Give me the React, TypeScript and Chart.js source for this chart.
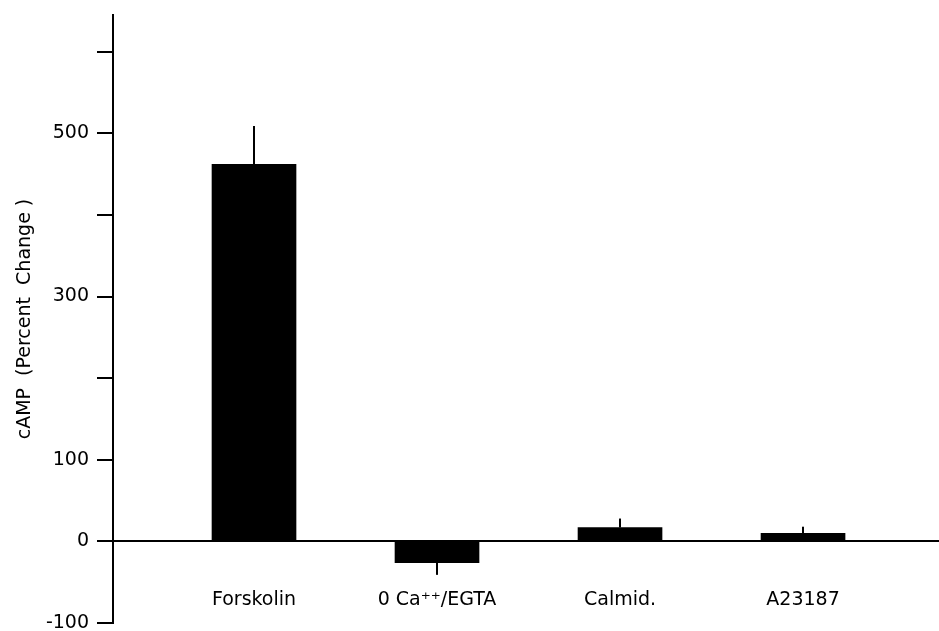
import React, { useEffect, useRef } from "react";
import { Chart, registerables } from "chart.js";

Chart.register(...registerables);

const categories = ["Forskolin", "0 Ca\u207A\u207A/EGTA", "Calmid.", "A23187"];
const values = [462, -26, 17, 10];
const errors = [47, 15, 11, 8];
const yTicks = [-100, 0, 100, 200, 300, 400, 500, 600];
const yLabeled = [-100, 0, 100, 300, 500];
const yTitle = "cAMP  (Percent  Change )";

const FONT = "'DejaVu Sans', sans-serif";

const errorBarPlugin = {
  id: "errorBars",
  afterDatasetsDraw(chart: any) {
    const ctx = chart.ctx;
    const meta = chart.getDatasetMeta(0);
    const ys = chart.scales.y;
    ctx.save();
    ctx.strokeStyle = "#000";
    ctx.lineWidth = 2;
    meta.data.forEach((el: any, i: number) => {
      const v = values[i];
      const e = errors[i];
      const end = v >= 0 ? v + e : v - e;
      ctx.beginPath();
      ctx.moveTo(el.x, ys.getPixelForValue(v));
      ctx.lineTo(el.x, ys.getPixelForValue(end));
      ctx.stroke();
    });
    ctx.restore();
  },
};

export default function App() {
  const ref = useRef<HTMLCanvasElement | null>(null);
  useEffect(() => {
    if (!ref.current) return;
    const chart = new Chart(ref.current, {
      type: "bar",
      data: {
        datasets: [
          {
            data: values.map((v, i) => ({ x: i + 1, y: v })),
            backgroundColor: "#000",
            borderWidth: 0,
            barThickness: 84,
          },
        ],
      },
      options: {
        animation: false,
        responsive: false,
        devicePixelRatio: 1,
        layout: { padding: { top: 15, bottom: 8, left: 0, right: 0 } },
        plugins: { legend: { display: false }, tooltip: { enabled: false } },
        scales: {
          x: {
            type: "linear",
            position: { y: 0 },
            offset: false,
            min: 0.2295,
            max: 4.743,
            afterBuildTicks: (s: any) => {
              s.ticks = categories.map((_, i) => ({ value: i + 1 }));
            },
            afterFit: (s: any) => {
              s.paddingLeft = 0;
              s.paddingRight = 0;
            },
            grid: { display: false, drawTicks: false, offset: false },
            border: { display: true, color: "#000", width: 2 },
            ticks: {
              autoSkip: false,
              maxRotation: 0,
              padding: 47,
              color: "#000",
              font: { family: FONT, size: 19 },
              callback: (v: any) => categories[Math.round(v) - 1] ?? "",
            },
          },
          y: {
            position: "left",
            min: -100,
            max: 645,
            afterBuildTicks: (s: any) => {
              s.ticks = yTicks.map((v) => ({ value: v }));
            },
            afterFit: (s: any) => {
              s.width = 113;
              s.paddingTop = 0;
              s.paddingBottom = 0;
            },
            grid: {
              display: true,
              drawOnChartArea: false,
              drawTicks: true,
              tickLength: 16,
              color: "#000",
              lineWidth: 2,
            },
            border: { display: true, color: "#000", width: 2 },
            ticks: {
              padding: 8,
              color: "#000",
              font: { family: FONT, size: 19 },
              callback: (v: any) => (yLabeled.includes(v) ? String(v) : ""),
            },
            title: {
              display: true,
              text: yTitle,
              color: "#000",
              font: { family: FONT, size: 19 },
              padding: { top: 14, bottom: 0 },
            },
          },
        },
      },
      plugins: [errorBarPlugin],
    });
    return () => chart.destroy();
  }, []);
  return (
    <div style={{ position: "absolute", left: 0, top: 0, width: 939, height: 631, background: "#fff" }}>
      <canvas ref={ref} width={939} height={631} />
    </div>
  );
}
